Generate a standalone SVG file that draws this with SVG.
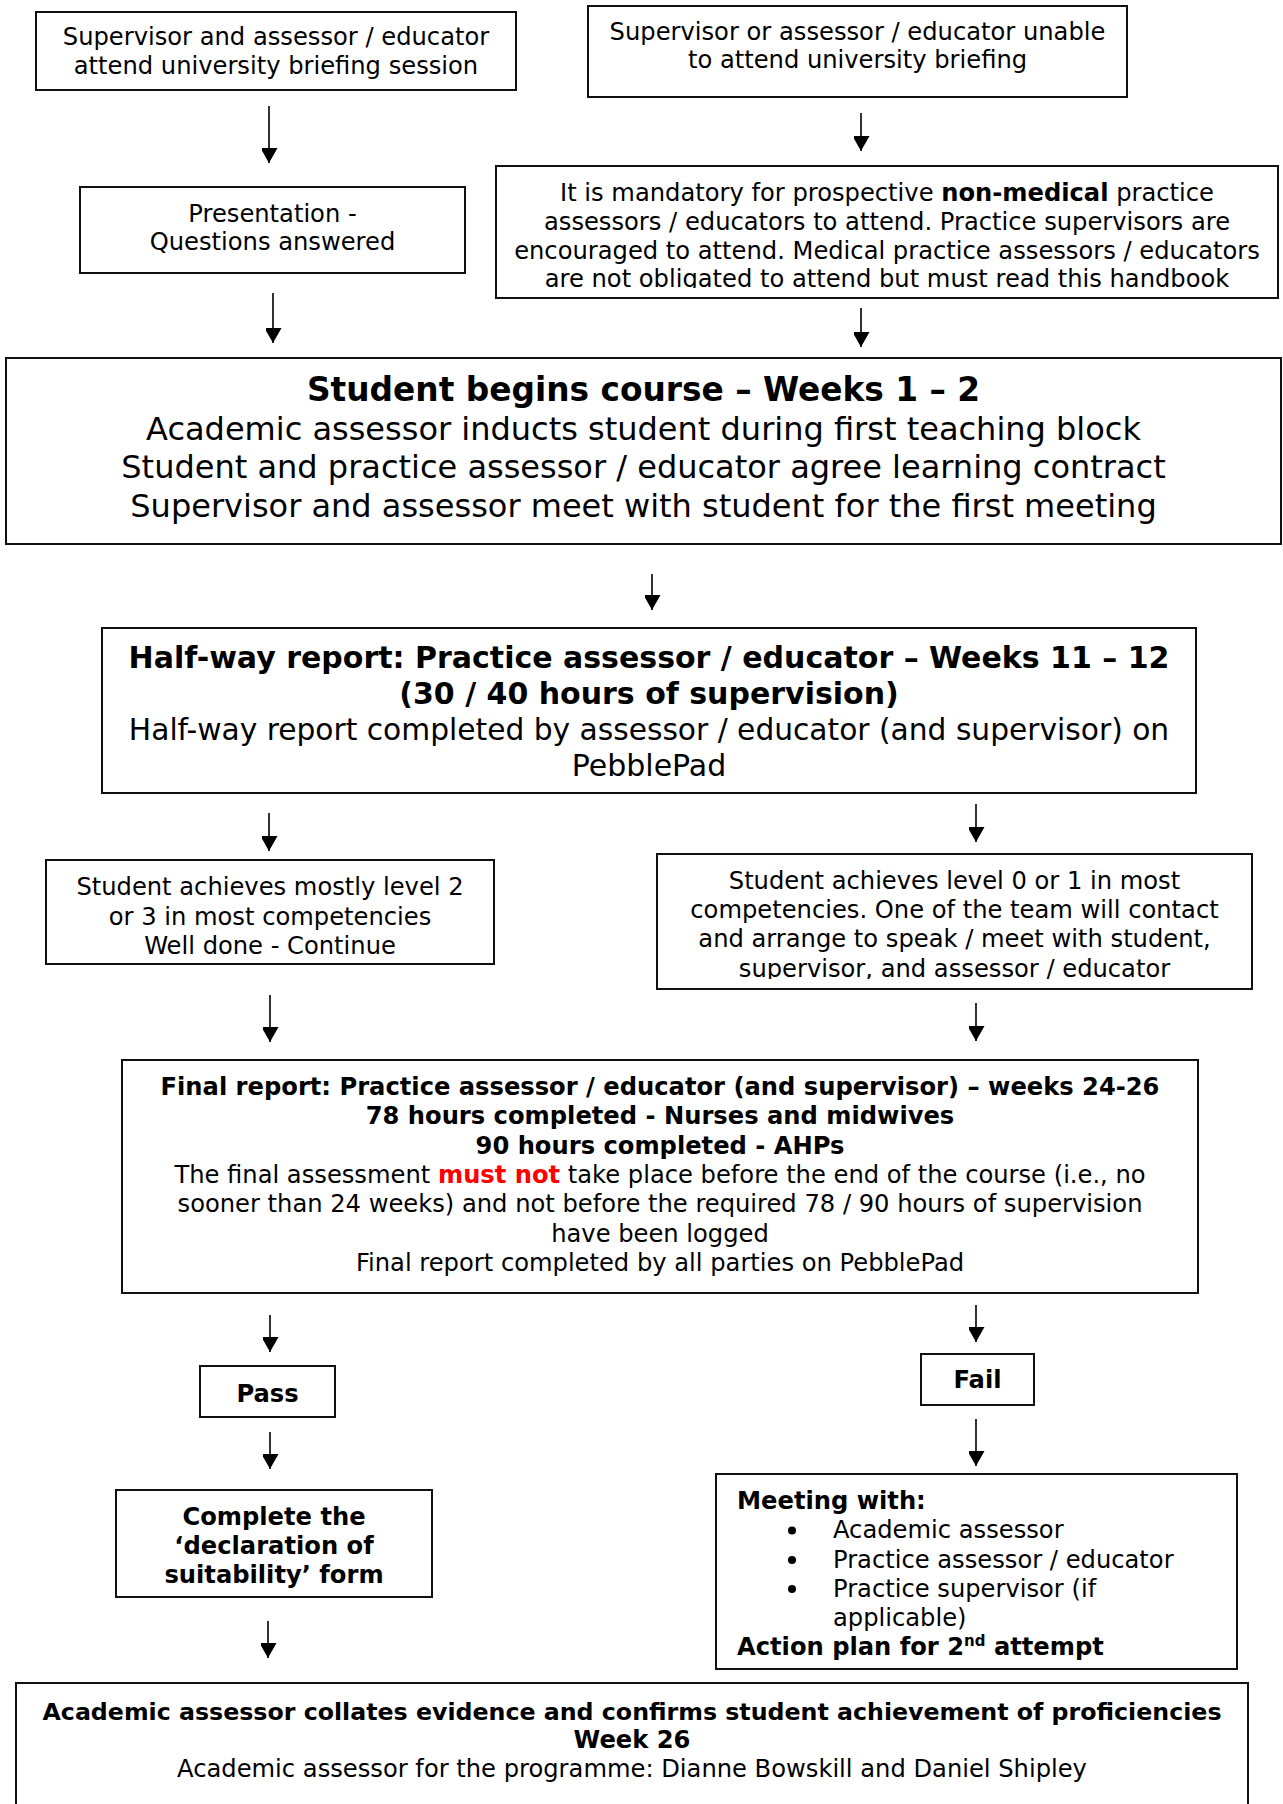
<svg xmlns="http://www.w3.org/2000/svg" width="1283" height="1804" viewBox="0 0 1283 1804">
<defs>
<marker id="ah" markerUnits="userSpaceOnUse" markerWidth="18" markerHeight="16" refX="15" refY="8.5" orient="auto">
<path d="M0,0 L15,8.5 L0,17 z" fill="#000"/>
</marker>
<clipPath id="clipMand"><rect x="496" y="166" width="782" height="122"/></clipPath>
<clipPath id="clipL0"><rect x="657" y="854" width="595" height="125"/></clipPath>
</defs>
<style>
.box{fill:#fff;stroke:#111;stroke-width:2}
text{font-family:"DejaVu Sans","Liberation Sans",sans-serif;fill:#000}
.s{font-size:24.2px}
.m{font-size:30px}
.l{font-size:32px}
.t{font-size:32.8px}
.c{text-anchor:middle}
.b{font-weight:bold}
.red{fill:#ff0000;font-weight:bold}
.arr{stroke:#000;stroke-width:1.6;fill:none;marker-end:url(#ah)}
</style>
<rect width="1283" height="1804" fill="#fff"/>

<g id="n1">
<rect class="box" x="36" y="12" width="480" height="78"/>
<text class="s c" x="276" y="45">Supervisor and assessor / educator</text>
<text class="s c" x="276" y="74">attend university briefing session</text>
</g>

<g id="n2">
<rect class="box" x="588" y="6" width="539" height="91"/>
<text class="s c" x="857.5" y="40">Supervisor or assessor / educator unable</text>
<text class="s c" x="857.5" y="68">to attend university briefing</text>
</g>

<g id="n3">
<rect class="box" x="80" y="187" width="385" height="86"/>
<text class="s c" x="272.5" y="222">Presentation -</text>
<text class="s c" x="272.5" y="250">Questions answered</text>
</g>

<g id="n4">
<rect class="box" x="496" y="166" width="782" height="132"/>
<g clip-path="url(#clipMand)">
<text class="s c" x="887" y="201">It is mandatory for prospective <tspan class="b">non-medical</tspan> practice</text>
<text class="s c" x="887" y="229.5">assessors / educators to attend. Practice supervisors are</text>
<text class="s c" x="887" y="258.5">encouraged to attend. Medical practice assessors / educators</text>
<text class="s c" x="887" y="287">are not obligated to attend but must read this handbook</text>
</g>
</g>

<g id="n5">
<rect class="box" x="6" y="358" width="1275" height="186"/>
<text class="t c b" x="643.5" y="400.5">Student begins course – Weeks 1 – 2</text>
<text class="l c" x="643.5" y="439.5">Academic assessor inducts student during first teaching block</text>
<text class="l c" x="643.5" y="478">Student and practice assessor / educator agree learning contract</text>
<text class="l c" x="643.5" y="517">Supervisor and assessor meet with student for the first meeting</text>
</g>

<g id="n6">
<rect class="box" x="102" y="628" width="1094" height="165"/>
<text class="m c b" x="649" y="668">Half-way report: Practice assessor / educator – Weeks 11 – 12</text>
<text class="m c b" x="649" y="704">(30 / 40 hours of supervision)</text>
<text class="c" x="649" y="740" style="font-size:29.7px">Half-way report completed by assessor / educator (and supervisor) on</text>
<text class="m c" x="649" y="776">PebblePad</text>
</g>

<g id="n7">
<rect class="box" x="46" y="860" width="448" height="104"/>
<text class="s c" x="270" y="895">Student achieves mostly level 2</text>
<text class="s c" x="270" y="924.5">or 3 in most competencies</text>
<text class="s c" x="270" y="954">Well done - Continue</text>
</g>

<g id="n8">
<rect class="box" x="657" y="854" width="595" height="135"/>
<g clip-path="url(#clipL0)">
<text class="s c" x="954.5" y="889">Student achieves level 0 or 1 in most</text>
<text class="s c" x="954.5" y="918">competencies. One of the team will contact</text>
<text class="s c" x="954.5" y="947">and arrange to speak / meet with student,</text>
<text class="s c" x="954.5" y="976.5">supervisor, and assessor / educator</text>
</g>
</g>

<g id="n9">
<rect class="box" x="122" y="1060" width="1076" height="233"/>
<text class="s c b" x="660" y="1095">Final report: Practice assessor / educator (and supervisor) – weeks 24-26</text>
<text class="s c b" x="660" y="1124.3">78 hours completed - Nurses and midwives</text>
<text class="s c b" x="660" y="1153.6">90 hours completed - AHPs</text>
<text class="s c" x="660" y="1182.9">The final assessment <tspan class="red">must not</tspan> take place before the end of the course (i.e., no</text>
<text class="s c" x="660" y="1212.2">sooner than 24 weeks) and not before the required 78 / 90 hours of supervision</text>
<text class="s c" x="660" y="1241.5">have been logged</text>
<text class="s c" x="660" y="1270.8">Final report completed by all parties on PebblePad</text>
</g>

<g id="n10">
<rect class="box" x="200" y="1366" width="135" height="51"/>
<text class="s c b" x="267.5" y="1402">Pass</text>
</g>

<g id="n11">
<rect class="box" x="921" y="1354" width="113" height="51"/>
<text class="s c b" x="977.5" y="1388">Fail</text>
</g>

<g id="n12">
<rect class="box" x="116" y="1490" width="316" height="107"/>
<text class="s c b" x="274" y="1525">Complete the</text>
<text class="s c b" x="274" y="1554">‘declaration of</text>
<text class="s c b" x="274" y="1583">suitability’ form</text>
</g>

<g id="n13">
<rect class="box" x="716" y="1474" width="521" height="195"/>
<text class="s b" x="737" y="1508.5">Meeting with:</text>
<circle cx="792" cy="1530.5" r="4"/>
<text class="s" x="833" y="1538">Academic assessor</text>
<circle cx="792" cy="1560" r="4"/>
<text class="s" x="833" y="1567.5">Practice assessor / educator</text>
<circle cx="792" cy="1589" r="4"/>
<text class="s" x="833" y="1596.5">Practice supervisor (if</text>
<text class="s" x="833" y="1625.5">applicable)</text>
<text class="s b" x="737" y="1655">Action plan for 2<tspan font-size="15" dy="-9">nd</tspan><tspan dy="9"> attempt</tspan></text>
</g>

<g id="n14">
<path class="box" d="M16,1815 V1683 H1248 V1815"/>
<text class="c b" x="632" y="1719.5" style="font-size:23.7px">Academic assessor collates evidence and confirms student achievement of proficiencies</text>
<text class="s c b" x="632" y="1748">Week 26</text>
<text class="s c" x="632" y="1776.5">Academic assessor for the programme: Dianne Bowskill and Daniel Shipley</text>
</g>

<g id="connectors">
<line class="arr" x1="269" y1="106" x2="269" y2="163"/>
<line class="arr" x1="273" y1="293" x2="273" y2="343"/>
<line class="arr" x1="861" y1="113" x2="861" y2="151"/>
<line class="arr" x1="861" y1="308" x2="861" y2="347"/>
<line class="arr" x1="652" y1="574" x2="652" y2="610"/>
<line class="arr" x1="269" y1="813" x2="269" y2="851"/>
<line class="arr" x1="976" y1="804" x2="976" y2="842"/>
<line class="arr" x1="270" y1="995" x2="270" y2="1042"/>
<line class="arr" x1="976" y1="1003" x2="976" y2="1041"/>
<line class="arr" x1="270" y1="1315" x2="270" y2="1352"/>
<line class="arr" x1="976" y1="1305" x2="976" y2="1342"/>
<line class="arr" x1="270" y1="1432" x2="270" y2="1469"/>
<line class="arr" x1="976" y1="1419" x2="976" y2="1466"/>
<line class="arr" x1="268" y1="1621" x2="268" y2="1658"/>
</g>
</svg>
